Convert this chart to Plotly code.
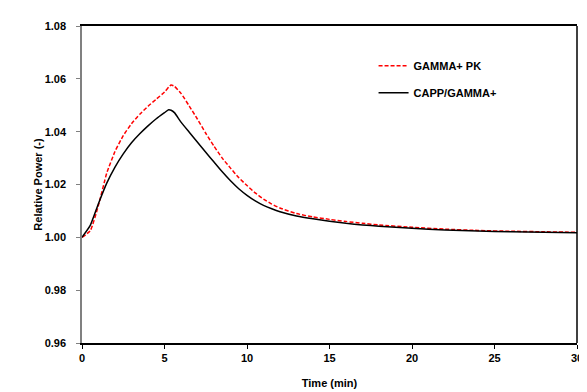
import plotly.graph_objects as go

time_min = [0, 0.5, 1.0, 1.5, 2.0, 2.5, 3.0, 3.5, 4.0, 4.5, 5.0, 5.25, 5.4, 5.6, 6.0, 6.5,
            7.0, 7.5, 8.0, 8.5, 9.0, 9.5, 10, 10.5, 11, 11.5, 12, 13, 14, 15, 16, 17, 18,
            20, 22, 24, 26, 28, 30]

gamma_pk = [1.0000, 1.0025, 1.0122, 1.0243, 1.0325, 1.0385, 1.0430, 1.0466, 1.0496, 1.0523,
            1.0550, 1.0568, 1.0577, 1.0572, 1.0545, 1.0497, 1.0447, 1.0394, 1.0345, 1.0300,
            1.0262, 1.0226, 1.0196, 1.0168, 1.0145, 1.0126, 1.0111, 1.0090, 1.0077, 1.0068,
            1.0060, 1.0053, 1.0047, 1.0038, 1.0031, 1.0026, 1.0023, 1.0021, 1.0019]

capp_gamma = [1.0000, 1.0045, 1.0128, 1.0205, 1.0266, 1.0316, 1.0358, 1.0392, 1.0422, 1.0449,
              1.0472, 1.0483, 1.0481, 1.0472, 1.0436, 1.0398, 1.0360, 1.0322, 1.0285, 1.0248,
              1.0214, 1.0184, 1.0159, 1.0138, 1.0121, 1.0108, 1.0097, 1.0081, 1.0070, 1.0061,
              1.0053, 1.0047, 1.0042, 1.0034, 1.0028, 1.0024, 1.0021, 1.0019, 1.0017]

x_ticks = [0, 5, 10, 15, 20, 25, 30]
y_ticks = [0.96, 0.98, 1.00, 1.02, 1.04, 1.06, 1.08]
y_tick_labels = ["0.96", "0.98", "1.00", "1.02", "1.04", "1.06", "1.08"]

font_family = "Arial, Liberation Sans, sans-serif"
bold_font = dict(family=font_family, size=11, color="#000000", weight="bold")

fig = go.Figure()
fig.add_trace(go.Scatter(
    x=time_min, y=gamma_pk, mode="lines", name="GAMMA+ PK",
    line=dict(color="#ff0000", width=1.5, dash="4px,2px", shape="spline", smoothing=0.5),
    legendgroup="a",
))
fig.add_trace(go.Scatter(
    x=time_min, y=capp_gamma, mode="lines", name="CAPP/GAMMA+",
    line=dict(color="#000000", width=1.5, shape="spline", smoothing=0.5),
    legendgroup="b",
))

fig.update_layout(
    width=587, height=392,
    margin=dict(l=74, r=17, t=16, b=49),
    paper_bgcolor="white", plot_bgcolor="white",
    font=bold_font,
    showlegend=True,
    legend=dict(
        x=0.589, xanchor="left", y=0.92, yanchor="top",
        bgcolor="rgba(0,0,0,0)", traceorder="grouped", tracegroupgap=8,
        font=bold_font,
    ),
    xaxis=dict(
        range=[0, 30], tickvals=x_ticks, showgrid=False, zeroline=False,
        showline=True, linecolor="#000000", linewidth=2, mirror=True,
        ticks="outside", ticklen=4, tickcolor="#000000", tickwidth=1,
        tickfont=bold_font,
        title=dict(text="Time (min)", standoff=16, font=bold_font),
    ),
    yaxis=dict(
        range=[0.96, 1.08], tickvals=y_ticks, ticktext=y_tick_labels,
        showgrid=False, zeroline=False,
        showline=True, linecolor="#808080", linewidth=1.5,
        ticks="outside", ticklen=4, tickcolor="#808080", tickwidth=1,
        ticklabelstandoff=8,
        tickfont=bold_font,
        title=dict(text="Relative Power (-)", standoff=0, font=bold_font),
    ),
    shapes=[dict(type="line", xref="paper", yref="paper", x0=1, x1=1, y0=0, y1=1,
                 line=dict(color="#000000", width=1.5))],
)

fig.write_html("out.html")
